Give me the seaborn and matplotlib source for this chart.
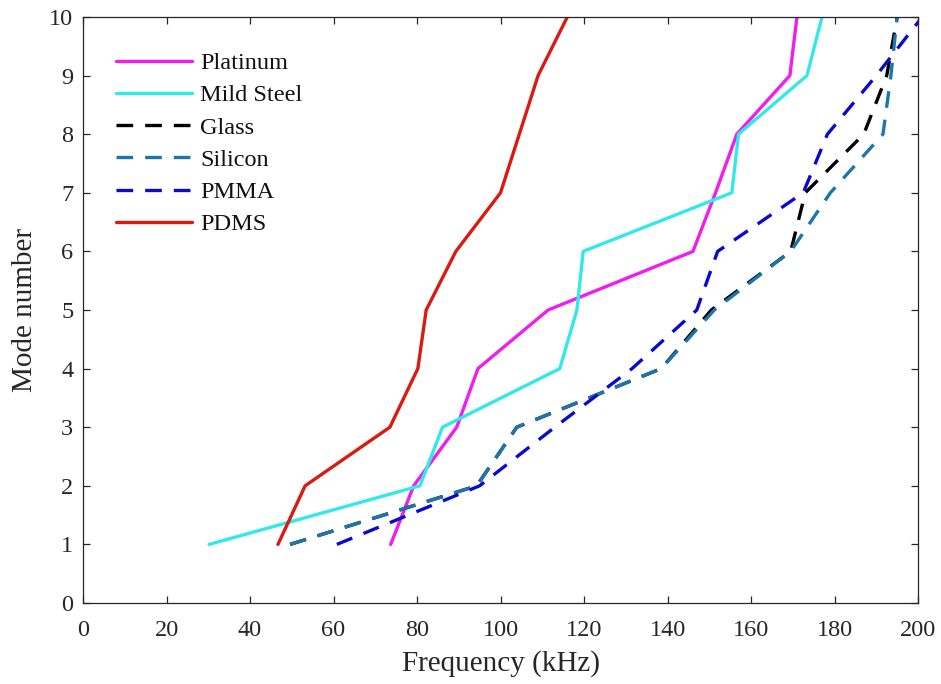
import matplotlib
matplotlib.use("Agg")
import matplotlib.pyplot as plt
import seaborn as sns
import pandas as pd

# Mode numbers and resonance frequencies (kHz) for each material
modes = [1, 2, 3, 4, 5, 6, 7, 8, 9, 10]
platinum = [73.7, 79.2, 89.5, 94.6, 111.4, 146.1, 151.5, 156.6, 169.3, 171.0]
mild_steel = [30.2, 80.7, 86.1, 114.2, 118.3, 119.8, 155.4, 157.0, 173.4, 177.0]
glass = [49.6, 94.3, 103.9, 138.5, 150.5, 169.5, 173.0, 187.0, 192.5, 195.0]
silicon = [49.6, 94.3, 103.9, 138.5, 151.2, 169.5, 179.0, 191.6, 193.5, 195.0]
pmma = [60.8, 95.0, 113.0, 131.5, 147.0, 152.0, 172.5, 178.3, 190.0, 201.0]
pdms = [46.7, 53.2, 73.5, 80.2, 82.2, 89.3, 100.0, 104.5, 109.0, 116.0]

series = [
    ("Platinum", platinum, "#F01DF0", "-"),
    ("Mild Steel", mild_steel, "#33E8EA", "-"),
    ("Glass", glass, "#000000", "--"),
    ("Silicon", silicon, "#1C76AC", "--"),
    ("PMMA", pmma, "#0A0ACD", "--"),
    ("PDMS", pdms, "#DA1A10", "-"),
]

sns.set_theme(style="white")
plt.rcParams["font.family"] = ["Liberation Serif", "DejaVu Serif"]

fig = plt.figure(figsize=(9.41, 6.84), dpi=100)
ax = fig.add_axes([0.0882, 0.1184, 0.8874, 0.8568])

for name, freq, color, ls in series:
    df = pd.DataFrame({"freq": freq, "mode": modes})
    line_kw = dict(linewidth=2.4, color=color, label=name)
    if ls == "--":
        line_kw["dashes"] = (5.0, 3.6)
    sns.lineplot(data=df, x="freq", y="mode", ax=ax, sort=False,
                 estimator=None, **line_kw)

ax.set_xlim(0, 200)
ax.set_ylim(0, 10)
ax.set_xticks(range(0, 201, 20))
ax.set_yticks(range(0, 11, 1))
ax.set_xlabel("Frequency (kHz)", fontsize=21, color="#262626", labelpad=7)
ax.set_ylabel("Mode number", fontsize=21, color="#262626", labelpad=8)

for side in ["top", "right", "left", "bottom"]:
    ax.spines[side].set_visible(True)
    ax.spines[side].set_color("#262626")
    ax.spines[side].set_linewidth(0.9)

ax.tick_params(axis="both", which="major", direction="in", length=5,
               width=0.9, color="#262626", labelsize=17.5, labelcolor="#262626",
               top=True, right=True, bottom=True, left=True)
ax.tick_params(axis="x", pad=12)
ax.tick_params(axis="y", pad=7)

leg = ax.legend(loc="upper left", bbox_to_anchor=(0.04, 0.94), frameon=False,
                fontsize=17.5, handlelength=3.1, handletextpad=0.35,
                labelspacing=0.42, borderpad=0, borderaxespad=0)
for txt in leg.get_texts():
    txt.set_color("#111111")

fig.savefig("out.png", dpi=100)
